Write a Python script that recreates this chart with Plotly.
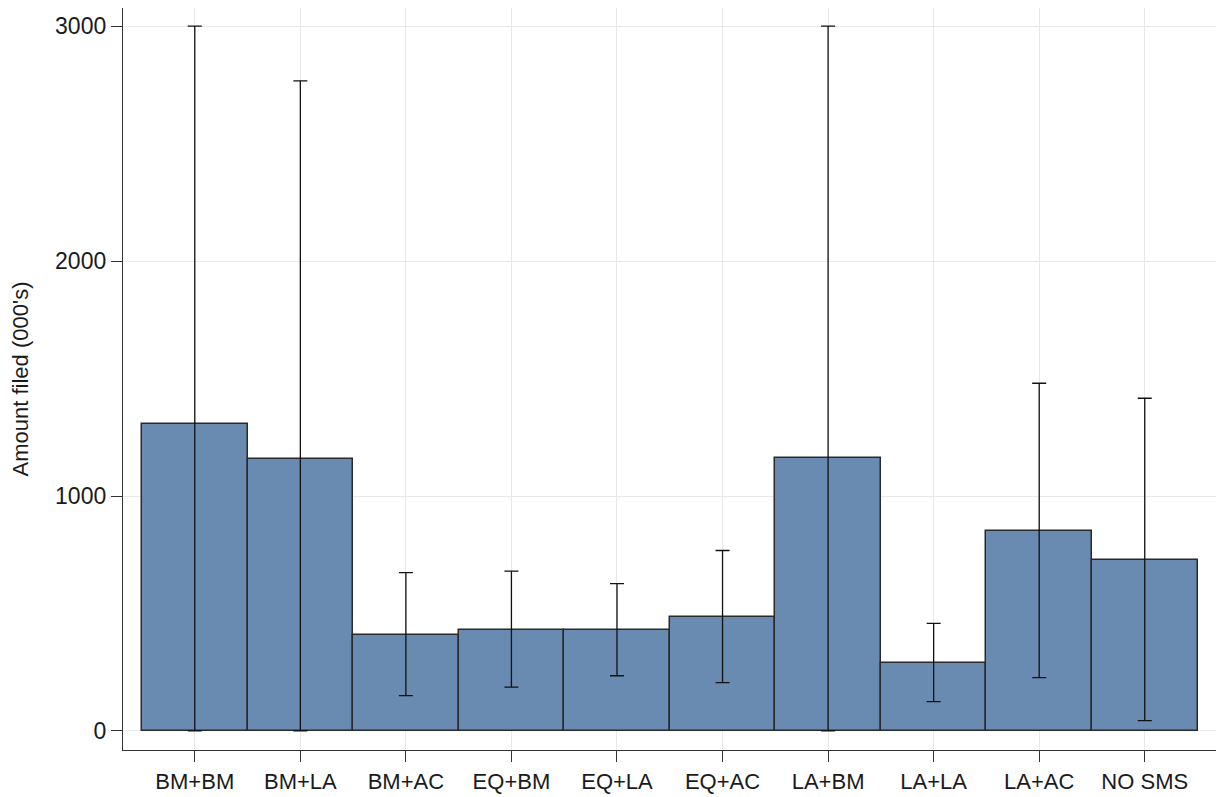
import plotly.graph_objects as go

# Treatment groups and mean amount filed (thousands), with CI bounds
groups = ["BM+BM", "BM+LA", "BM+AC", "EQ+BM", "EQ+LA",
          "EQ+AC", "LA+BM", "LA+LA", "LA+AC", "NO SMS"]
mean_amount = [1306, 1158, 409, 431, 429, 484, 1162, 289, 850, 727]
ci_low = [0, 0, 150, 187, 235, 206, 0, 125, 227, 44]
ci_high = [3000, 2767, 674, 680, 627, 768, 3000, 458, 1480, 1416]

y_ticks = [0, 1000, 2000, 3000]

err_plus = [h - m for h, m in zip(ci_high, mean_amount)]
err_minus = [m - l for m, l in zip(mean_amount, ci_low)]

font_family = "Liberation Sans, Arial, sans-serif"
ink = "#1a1a1a"

fig = go.Figure(
    go.Bar(
        x=groups,
        y=mean_amount,
        width=1.0,
        marker=dict(color="#6a8bb1", line=dict(color="#2a2a2a", width=1.5)),
        error_y=dict(
            type="data",
            symmetric=False,
            array=err_plus,
            arrayminus=err_minus,
            color="#111111",
            thickness=1.3,
            width=7,
        ),
    )
)

fig.update_layout(
    width=1221,
    height=797,
    margin=dict(l=123, r=5, t=8, b=47),
    paper_bgcolor="white",
    plot_bgcolor="white",
    showlegend=False,
    bargap=0,
    font=dict(family=font_family, color=ink, size=22),
)

fig.update_xaxes(
    type="category",
    range=[-0.68, 9.675],
    automargin=False,
    showline=True,
    linecolor="#333333",
    linewidth=1.3,
    ticks="outside",
    ticklen=11,
    tickwidth=1.2,
    tickcolor="#333333",
    showgrid=True,
    gridcolor="#e8e8e8",
    gridwidth=1,
    tickfont=dict(size=22, color=ink),
)

fig.update_yaxes(
    range=[-81, 3077],
    automargin=False,
    tickvals=y_ticks,
    ticktext=[str(v) for v in y_ticks],
    showline=True,
    linecolor="#333333",
    linewidth=1.3,
    ticks="outside",
    ticklen=11,
    tickwidth=1.2,
    tickcolor="#333333",
    showgrid=True,
    gridcolor="#e8e8e8",
    gridwidth=1,
    zeroline=False,
    tickfont=dict(size=23, color=ink),
    title=dict(text="Amount filed (000's)", font=dict(size=22, color=ink), standoff=20),
)

fig.write_html("out.html")
